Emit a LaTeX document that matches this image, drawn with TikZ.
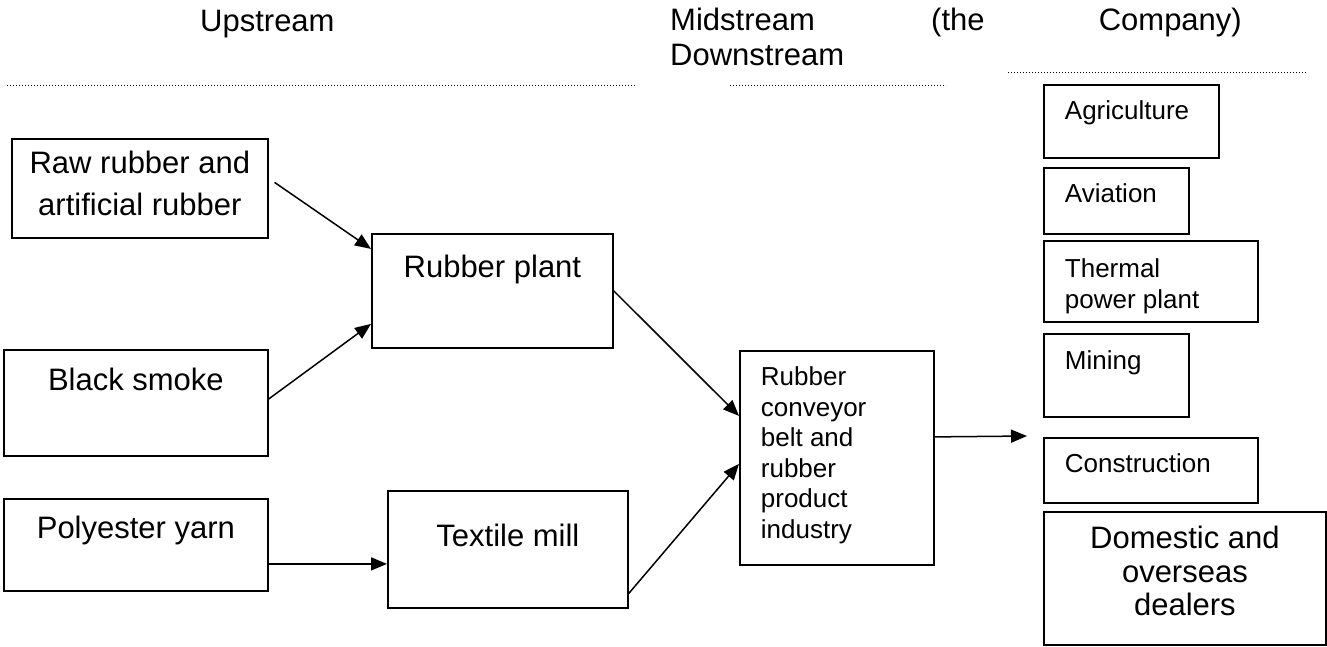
\documentclass[tikz,border=0pt]{standalone}
\usepackage{fontspec}
\setmainfont{Liberation Sans}
\usetikzlibrary{arrows.meta}

\newcommand{\Lfont}{\fontsize{31}{42}\selectfont}
\newcommand{\Sfont}{\fontsize{26}{31}\selectfont}

\begin{document}
\begin{tikzpicture}[x=1pt,y=-1pt,
  box/.style={draw,line width=1.8pt,inner ysep=0pt,anchor=north west},
  arr/.style={line width=1.5pt,-{Triangle[length=16pt,width=13pt]}},
  sep/.style={line width=1pt,dash pattern=on 1pt off 2pt}]

\useasboundingbox (0,0) rectangle (1327,646);

% headings
\begin{scope}[every node/.style={inner sep=0pt,anchor=base west,font=\Lfont}]
\node (up) at (200,31) {Upstream};
\node (mid) at (670,30) {Midstream};
\node (the) at (931,30) {(the};
\node[anchor=base east] (comp) at (1242,30) {Company)};
\node (down) at (670,65) {Downstream};
\end{scope}

\draw[sep] (7,85) -- (636,85);
\draw[sep] (730,85) -- (946,85);
\draw[sep] (1008,72) -- (1306,72);

% upstream
\begin{scope}[every node/.style={box,font=\Lfont,align=flush center,inner xsep=5pt}]
\node[text width=246pt,text height=35pt,text depth=64pt] (raw) at (11,138) {Raw rubber and\\artificial rubber};
\node[text width=254pt,text height=41pt,text depth=65pt] (smoke) at (3,349) {Black smoke};
\node[text width=254pt,text height=40pt,text depth=52pt] (poly) at (3,498) {Polyester yarn};
\node[text width=231pt,text height=44pt,text depth=70pt] (plant) at (371,233) {Rubber plant};
\node[text width=230pt,text height=56pt,text depth=61pt] (textile) at (387,490) {Textile mill};
\end{scope}

% midstream
\node[box,font=\fontsize{26}{30.5}\selectfont,align=flush left,inner xsep=21pt,text width=152pt,
  text height=35pt,text depth=179pt] (conv) at (739,350)
  {Rubber\\conveyor\\belt and\\rubber\\product\\industry};

% downstream
\begin{scope}[every node/.style={box,font=\Sfont,align=flush left,inner xsep=21pt}]
\node[text width=133pt,text height=35pt,text depth=38pt] (agri) at (1043,84) {Agriculture};
\node[text width=103pt,text height=35pt,text depth=31pt] (avia) at (1043,167) {Aviation};
\node[text width=172pt,text height=37pt,text depth=44pt] (therm) at (1043,240) {Thermal\\power plant};
\node[text width=103pt,text height=36pt,text depth=47pt] (mine) at (1043,333) {Mining};
\node[text width=172pt,text height=35pt,text depth=30pt] (constr) at (1043,437) {Construction};
\end{scope}
\node[box,font=\fontsize{31}{33.5}\selectfont,align=flush center,inner xsep=5pt,text width=272pt,
  text height=37pt,text depth=96pt] (dealer) at (1043,511) {Domestic and\\overseas\\dealers};

\coordinate (out) at (1027,436);

\draw[arr,shorten <=7pt] ([yshift=10pt]raw.east) -- ([yshift=42pt]plant.west);
\draw[arr] ([yshift=4pt]smoke.east) -- ([yshift=-33pt]plant.west);
\draw[arr] (plant.east) -- ([yshift=42pt]conv.west);
\draw[arr] ([yshift=-44pt]textile.east) -- ([yshift=-6pt]conv.west);
\draw[arr] ([yshift=-19pt]poly.east) -- ([yshift=-14.5pt]textile.west);
\draw[arr] ([yshift=21pt]conv.east) -- (out);
\end{tikzpicture}
\end{document}
